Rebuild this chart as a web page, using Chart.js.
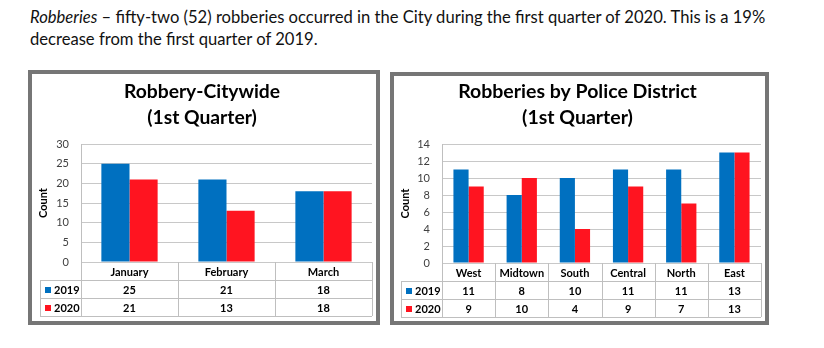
<!DOCTYPE html>
<html>
<head>
<meta charset="utf-8">
<script src="https://cdn.jsdelivr.net/npm/chart.js@4/dist/chart.umd.min.js"></script>
<style>
  html, body { margin: 0; padding: 0; background: #fff; width: 824px; height: 348px; overflow: hidden; }
  .note { position: absolute; left: 30px; top: 6px; font-family: Lato, "Open Sans", sans-serif; font-size: 16.6px; line-height: 22px; color: #111; white-space: nowrap; }
  .box { position: absolute; border: 4px solid #767676; background: #fff; }
  #boxCity { left: 28px; top: 70px; width: 344px; height: 247px; }
  #boxDistrict { left: 390px; top: 72px; width: 371px; height: 245px; }
  canvas { display: block; }
</style>
</head>
<body>
<div class="note"><i>Robberies</i> – fifty-two (52) robberies occurred in the City during the first quarter of 2020. This is a 19%<br>decrease from the first quarter of 2019.</div>
<div class="box" id="boxCity"><canvas id="cityChart" width="344" height="247"></canvas></div>
<div class="box" id="boxDistrict"><canvas id="districtChart" width="371" height="245"></canvas></div>
<script>
// Citywide robberies by month
const monthLabels = ['January', 'February', 'March'];
const cityCounts2019 = [25, 21, 18];
const cityCounts2020 = [21, 13, 18];
const cityTicks = { max: 30, step: 5 };

// Robberies by police district
const districtLabels = ['West', 'Midtown', 'South', 'Central', 'North', 'East'];
const districtCounts2019 = [11, 8, 10, 11, 11, 13];
const districtCounts2020 = [9, 10, 4, 9, 7, 13];
const districtTicks = { max: 14, step: 2 };

const seriesNames = ['2019', '2020'];
const seriesColors = ['#0070C0', '#FF1420'];

const FONT = 'Lato, "Open Sans", sans-serif';
const LINE = '#bfbfbf';

// Draws the data table (category row + one row per series) under the plot
const dataTablePlugin = {
  id: 'dataTable',
  afterDraw(chart, args, opt) {
    const { ctx, chartArea } = chart;
    const { left, right, bottom } = chartArea;
    const xs = chart.scales.x;
    const labels = chart.data.labels;
    const n = labels.length;
    const half = (right - left) / n / 2;
    const rh = opt.rowHeight;
    const legLeft = opt.legendLeft;
    const rows = chart.data.datasets.length + 1;
    const px = v => Math.round(v) + 0.5;

    ctx.save();
    ctx.strokeStyle = LINE;
    ctx.lineWidth = 1;
    ctx.beginPath();
    // horizontal rules
    for (let r = 1; r <= rows; r++) {
      const y = px(bottom + r * rh);
      ctx.moveTo(legLeft, y);
      ctx.lineTo(right, y);
    }
    // legend column left edge
    ctx.moveTo(px(legLeft), bottom + rh);
    ctx.lineTo(px(legLeft), bottom + rh * rows);
    // plot left edge continued down through the table
    ctx.moveTo(px(left), bottom);
    ctx.lineTo(px(left), bottom + rh * rows);
    // category boundaries
    for (let i = 0; i < n; i++) {
      const xr = px(xs.getPixelForValue(i) + half);
      ctx.moveTo(xr, bottom);
      ctx.lineTo(xr, bottom + rh * rows);
    }
    ctx.stroke();

    ctx.fillStyle = '#000';
    ctx.font = 'bold ' + opt.fontSize + 'px ' + FONT;
    ctx.textAlign = 'center';
    ctx.textBaseline = 'middle';
    labels.forEach((lab, i) => {
      ctx.fillText(lab, xs.getPixelForValue(i), bottom + rh / 2 + 1);
    });
    chart.data.datasets.forEach((ds, r) => {
      const yc = bottom + rh * (r + 1) + rh / 2 + 1;
      ds.data.forEach((v, i) => {
        ctx.textAlign = 'center';
        ctx.fillText(String(v), xs.getPixelForValue(i), yc);
      });
      ctx.fillStyle = ds.backgroundColor;
      ctx.fillRect(opt.keyX, Math.round(yc - 3), 6, 6);
      ctx.fillStyle = '#000';
      ctx.textAlign = 'left';
      ctx.fillText(ds.label, opt.keyX + 9, yc);
    });
    ctx.restore();
  }
};

function buildChart(canvasId, cfg) {
  return new Chart(document.getElementById(canvasId), {
    type: 'bar',
    data: {
      labels: cfg.labels,
      datasets: cfg.series.map((vals, k) => ({
        label: seriesNames[k],
        data: vals,
        backgroundColor: seriesColors[k],
        borderWidth: 0,
        categoryPercentage: cfg.groupWidth,
        barPercentage: 1
      }))
    },
    options: {
      responsive: false,
      animation: false,
      devicePixelRatio: 1,
      layout: { padding: { left: 0, right: 4, top: 0, bottom: 0 } },
      plugins: {
        legend: { display: false },
        tooltip: { enabled: false },
        title: {
          display: true,
          text: cfg.title,
          color: '#000',
          font: { family: FONT, size: cfg.titleSize, weight: 'bold', lineHeight: '26px' },
          padding: { top: cfg.titleTop, bottom: cfg.titleBottom }
        },
        dataTable: { rowHeight: 18, legendLeft: cfg.legendLeft, keyX: cfg.keyX, fontSize: 11 }
      },
      scales: {
        x: {
          grid: { display: false },
          border: { display: false },
          ticks: { display: false },
          afterFit: s => { s.height = cfg.tableHeight; }
        },
        y: {
          min: 0,
          max: cfg.ticks.max,
          ticks: { stepSize: cfg.ticks.step, color: '#404040', padding: 12, font: { family: FONT, size: 11 } },
          grid: { color: '#c8c8c8', drawTicks: false },
          border: { color: LINE },
          title: { display: true, text: 'Count', color: '#000', padding: { top: 5, bottom: 0 }, font: { family: FONT, size: 11, weight: 'bold' } },
          afterFit: s => { s.width = cfg.axisWidth; }
        }
      }
    },
    plugins: [dataTablePlugin]
  });
}

buildChart('cityChart', {
  labels: monthLabels,
  series: [cityCounts2019, cityCounts2020],
  ticks: cityTicks,
  title: ['Robbery-Citywide', '(1st Quarter)'],
  titleSize: 19.3,
  titleTop: 5, titleBottom: 13,
  groupWidth: 0.58,
  axisWidth: 49,
  tableHeight: 59,
  legendLeft: 8,
  keyX: 13
});

buildChart('districtChart', {
  labels: districtLabels,
  series: [districtCounts2019, districtCounts2020],
  ticks: districtTicks,
  title: ['Robberies by Police District', '(1st Quarter)'],
  titleSize: 19.5,
  titleTop: 3, titleBottom: 13,
  groupWidth: 0.57,
  axisWidth: 48,
  tableHeight: 58,
  legendLeft: 7,
  keyX: 12
});
</script>
</body>
</html>
